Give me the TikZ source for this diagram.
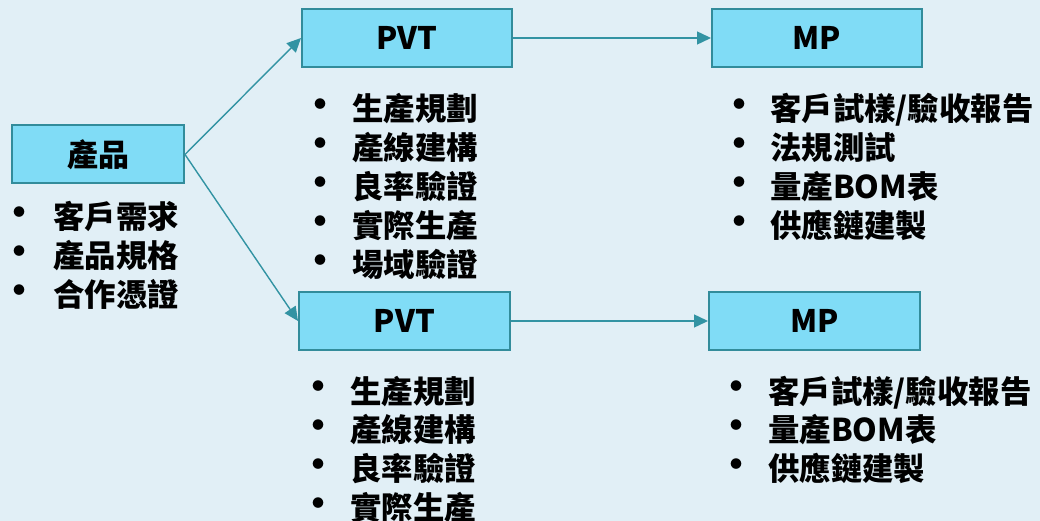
\documentclass[tikz,border=0pt]{standalone}
\usepackage{fontspec}
\setmainfont{Noto Sans CJK TC}
\usetikzlibrary{arrows.meta}
\definecolor{bgc}{RGB}{225,239,246}
\definecolor{boxfill}{RGB}{128,220,246}
\definecolor{boxline}{RGB}{50,140,155}
\definecolor{arr}{RGB}{50,147,163}
\newcommand\blist[5]{%
  \foreach \t [count=\i] in {#5}{%
    \node[bul] (#1b\i) at (#2,{#4+38.8*(\i-1)}) {•};
    \node[itm] (#1t\i) at (#3,{#4+38.8*(\i-1)+12}) {\t};
  }}
\begin{document}
\begin{tikzpicture}[x=1pt,y=-1pt,
  box/.style={draw=boxline, fill=boxfill, line width=2pt, inner sep=0pt,
    font=\fontsize{31}{31}\selectfont\bfseries},
  conn/.style={draw=arr, line width=1.4pt, -{Triangle[length=14pt,width=13pt]}},
  bul/.style={inner sep=0pt, font=\fontsize{38}{38}\selectfont\bfseries},
  itm/.style={anchor=base west, inner sep=0pt, font=\fontsize{31.4}{31.4}\selectfont\bfseries}]
\fill[bgc] (0,0) rectangle (1040,521);
\useasboundingbox (0,0) rectangle (1040,521);
\node[box, minimum width=172pt, minimum height=58pt] (prod) at (98,154.5) {產品};
\node[box, minimum width=210pt, minimum height=58pt] (pvt1) at (407,38) {PVT};
\node[box, minimum width=210pt, minimum height=58pt] (mp1) at (817,38) {MP};
\node[box, minimum width=211pt, minimum height=58pt] (pvt2) at (404.5,321) {PVT};
\node[box, minimum width=211pt, minimum height=58pt] (mp2) at (814.5,321) {MP};
\draw[conn] (prod.east) -- (pvt1.west);
\draw[conn] (prod.east) -- (pvt2.west);
\draw[conn] (pvt1.east) -- (mp1.west);
\draw[conn] (pvt2.east) -- (mp2.west);
\blist{a}{19}{53}{217}{客戶需求,產品規格,合作憑證}
\blist{b}{320}{352}{109}{生產規劃,產線建構,良率驗證,實際生產,場域驗證}
\blist{c}{739}{770}{109}{客戶試樣/驗收報告,法規測試,量產BOM表,供應鏈建製}
\blist{d}{318}{350}{391}{生產規劃,產線建構,良率驗證,實際生產}
\blist{e}{736}{768}{391}{客戶試樣/驗收報告,量產BOM表,供應鏈建製}
\end{tikzpicture}
\end{document}
